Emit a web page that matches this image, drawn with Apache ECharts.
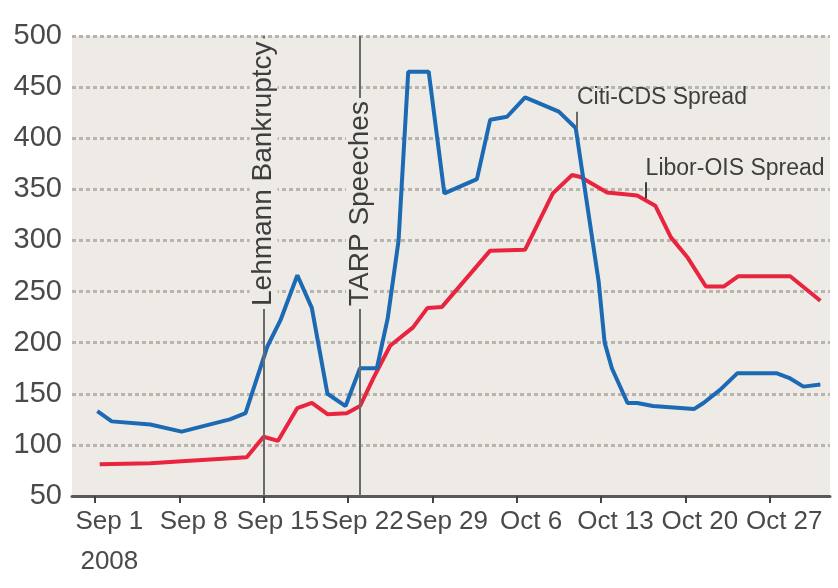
<!DOCTYPE html>
<html>
<head>
<meta charset="utf-8">
<script src="https://cdn.jsdelivr.net/npm/echarts@6/dist/echarts.min.js"></script>
<style>
  html, body { margin: 0; padding: 0; background: #fff; }
  #chart { width: 838px; height: 588px; }
</style>
</head>
<body>
<div id="chart"></div>
<script>
// days counted from Sep 1 2008
const tickDays = [0, 7, 14, 21, 28, 35, 42, 49, 56];
const tickLabels = ['Sep 1\n2008', 'Sep 8', 'Sep 15', 'Sep 22', 'Sep 29', 'Oct 6', 'Oct 13', 'Oct 20', 'Oct 27'];
// labels sit a little to the right of their ticks in the original
const LABEL_SHIFT = 1.2;
const labelDays = tickDays.map(function (d) { return d + LABEL_SHIFT; });

const citiDays   = [0.2, 1.4, 4.6, 7.2, 11.2, 12.5, 14.3, 15.4, 16.8, 18.0, 19.3, 20.8, 22.0, 23.4, 24.3, 25.2, 26.0, 27.7, 29.0, 31.7, 32.8, 34.2, 35.7, 38.5, 39.9, 41.8, 42.3, 42.9, 44.2, 45.0, 46.3, 49.7, 50.5, 51.9, 53.3, 56.6, 57.7, 58.8, 60.2];
const citiValues = [133, 123, 120, 113, 125, 131, 196, 222, 266, 234, 150, 138, 175, 175, 224, 300, 465, 465, 346, 360, 418, 421, 440, 426, 410, 260, 200, 175, 141, 141, 138, 135, 141, 154, 170, 170, 165, 157, 159];

const liborDays   = [0.4, 4.6, 7.2, 12.6, 14.0, 15.2, 16.8, 18.0, 19.3, 20.9, 22.0, 23.1, 24.5, 26.4, 27.6, 28.8, 32.8, 35.7, 38.0, 39.6, 40.3, 42.5, 45.0, 46.5, 47.8, 49.2, 50.7, 52.2, 53.4, 57.7, 60.2];
const liborValues = [81, 82, 84, 88, 108, 104, 136, 141, 130, 131, 138, 165, 197, 215, 234, 235, 290, 291, 346, 364, 362, 347, 344, 334, 303, 283, 255, 255, 265, 265, 241];

const events = [
  { day: 14, name: 'Lehmann Bankruptcy' },
  { day: 22, name: 'TARP Speeches' }
];

const FONT = "'Liberation Sans', Arial, sans-serif";
const PLOT_BG = '#eeebe6';

function zip(a, b) {
  return a.map(function (d, i) { return [d, b[i]]; });
}

const chart = echarts.init(document.getElementById('chart'));

chart.setOption({
  animation: false,
  backgroundColor: '#fff',
  grid: {
    left: 72,
    right: 8,
    top: 36,
    bottom: 92,
    show: true,
    backgroundColor: PLOT_BG,
    borderWidth: 0
  },
  xAxis: {
    type: 'value',
    min: -1.9,
    max: 61,
    splitLine: { show: false },
    axisLine: { show: true, onZero: false, lineStyle: { color: '#5a5a58', width: 3 } },
    axisTick: {
      show: true,
      customValues: tickDays,
      length: 7,
      lineStyle: { color: '#444', width: 2 }
    },
    axisLabel: {
      customValues: labelDays,
      interval: 0,
      showMinLabel: true,
      showMaxLabel: true,
      formatter: function (v) {
        return tickLabels[Math.round((v - LABEL_SHIFT) / 7)];
      },
      fontFamily: FONT,
      fontSize: 26,
      lineHeight: 40,
      color: '#4a4a4a',
      margin: 6
    }
  },
  yAxis: {
    type: 'value',
    min: 50,
    max: 500,
    interval: 50,
    axisLine: { show: false },
    axisTick: { show: false },
    axisLabel: {
      fontFamily: FONT,
      fontSize: 29,
      color: '#4a4a4a',
      margin: 10
    },
    splitLine: {
      lineStyle: { color: '#b8b5ae', width: 3, type: [4, 3] }
    }
  },
  series: [
    {
      name: 'Citi-CDS Spread',
      type: 'line',
      data: zip(citiDays, citiValues),
      showSymbol: false,
      lineStyle: { color: '#1c69b4', width: 4 },
      z: 3,
      markLine: {
        silent: true,
        symbol: 'none',
        lineStyle: { color: '#6a6a68', width: 2, type: 'solid' },
        data: events.map(function (e) {
          return {
            xAxis: e.day,
            label: {
              show: true,
              formatter: e.name,
              position: 'insideStart',
              distance: [187, 0],
              verticalAlign: 'middle',
              fontFamily: FONT,
              fontSize: 28,
              color: '#3e3e3e',
              backgroundColor: PLOT_BG,
              padding: [0, 3, 0, 3]
            }
          };
        }).concat([
          [
            { coord: [40.0, 410] },
            {
              coord: [40.0, 426],
              label: {
                show: true,
                formatter: 'Citi-CDS Spread',
                position: 'end',
                align: 'left',
                distance: [0, 2],
                fontFamily: FONT,
                fontSize: 23,
                color: '#3e3e3e'
              }
            }
          ]
        ])
      }
    },
    {
      name: 'Libor-OIS Spread',
      type: 'line',
      data: zip(liborDays, liborValues),
      showSymbol: false,
      lineStyle: { color: '#e8243f', width: 4 },
      z: 2,
      markLine: {
        silent: true,
        symbol: 'none',
        lineStyle: { color: '#3e3e3e', width: 2, type: 'solid' },
        data: [
          [
            { coord: [45.7, 341] },
            {
              coord: [45.7, 357],
              label: {
                show: true,
                formatter: 'Libor-OIS Spread',
                position: 'end',
                align: 'left',
                distance: [0, 2],
                fontFamily: FONT,
                fontSize: 23,
                color: '#3e3e3e'
              }
            }
          ]
        ]
      }
    }
  ]
});
</script>
</body>
</html>
